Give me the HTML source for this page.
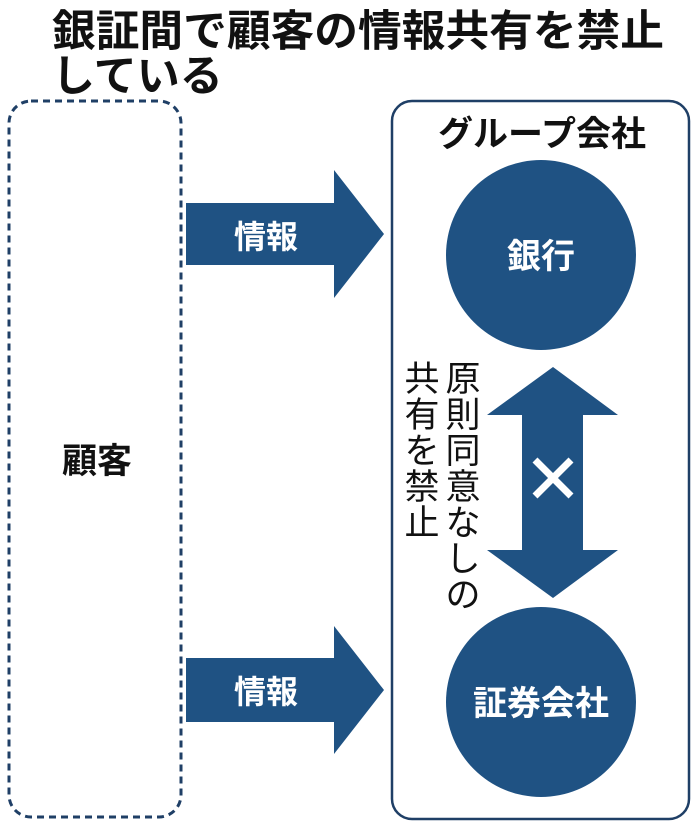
<!DOCTYPE html>
<html><head><meta charset="utf-8"><style>
body{margin:0;background:#fff;}
svg{display:block;font-family:"Liberation Sans","Noto Sans CJK JP",sans-serif;}
</style></head><body>
<svg width="696" height="829" viewBox="0 0 696 829">
<text x="52" y="46" font-size="43" font-weight="bold" fill="#111" textLength="612" lengthAdjust="spacingAndGlyphs">銀証間で顧客の情報共有を禁止</text>
<text x="52" y="91" font-size="43" font-weight="bold" fill="#111">している</text>
<rect x="9" y="101" width="172" height="716" rx="22" fill="none" stroke="#1f3f66" stroke-width="3" stroke-dasharray="7,5"/>
<text x="97" y="473" font-size="35" font-weight="bold" fill="#111" text-anchor="middle">顧客</text>
<path d="M186 203H334V170L384 234L334 298V265H186Z" fill="#1f5283"/>
<text x="266" y="248" font-size="32" font-weight="bold" fill="#fff" text-anchor="middle">情報</text>
<path d="M186 658H334V626L384 690L334 754V722H186Z" fill="#1f5283"/>
<text x="266" y="703" font-size="32" font-weight="bold" fill="#fff" text-anchor="middle">情報</text>
<rect x="392" y="101" width="297" height="718" rx="20" fill="none" stroke="#1f3f66" stroke-width="2.5"/>
<text x="542" y="146" font-size="35" font-weight="bold" fill="#111" text-anchor="middle">グループ会社</text>
<circle cx="541" cy="255" r="95" fill="#1f5283"/>
<text x="541" y="268" font-size="34" font-weight="bold" fill="#fff" text-anchor="middle">銀行</text>
<circle cx="541" cy="702" r="95" fill="#1f5283"/>
<text x="541" y="715" font-size="34" font-weight="bold" fill="#fff" text-anchor="middle">証券会社</text>
<path d="M553 367L618 415H583V550H618L553 598L487 550H522V415H487Z" fill="#1f5283"/>
<path d="M535 460L571 496M571 460L535 496" stroke="#fff" stroke-width="7"/>
<g font-size="35" fill="#111" text-anchor="middle">
<text x="463" y="391">原</text><text x="463" y="427">則</text><text x="463" y="463">同</text><text x="463" y="499">意</text><text x="463" y="535">な</text><text x="463" y="571">し</text><text x="463" y="607">の</text>
<text x="422" y="391">共</text><text x="422" y="427">有</text><text x="422" y="463">を</text><text x="422" y="499">禁</text><text x="422" y="535">止</text>
</g>
</svg>
</body></html>
